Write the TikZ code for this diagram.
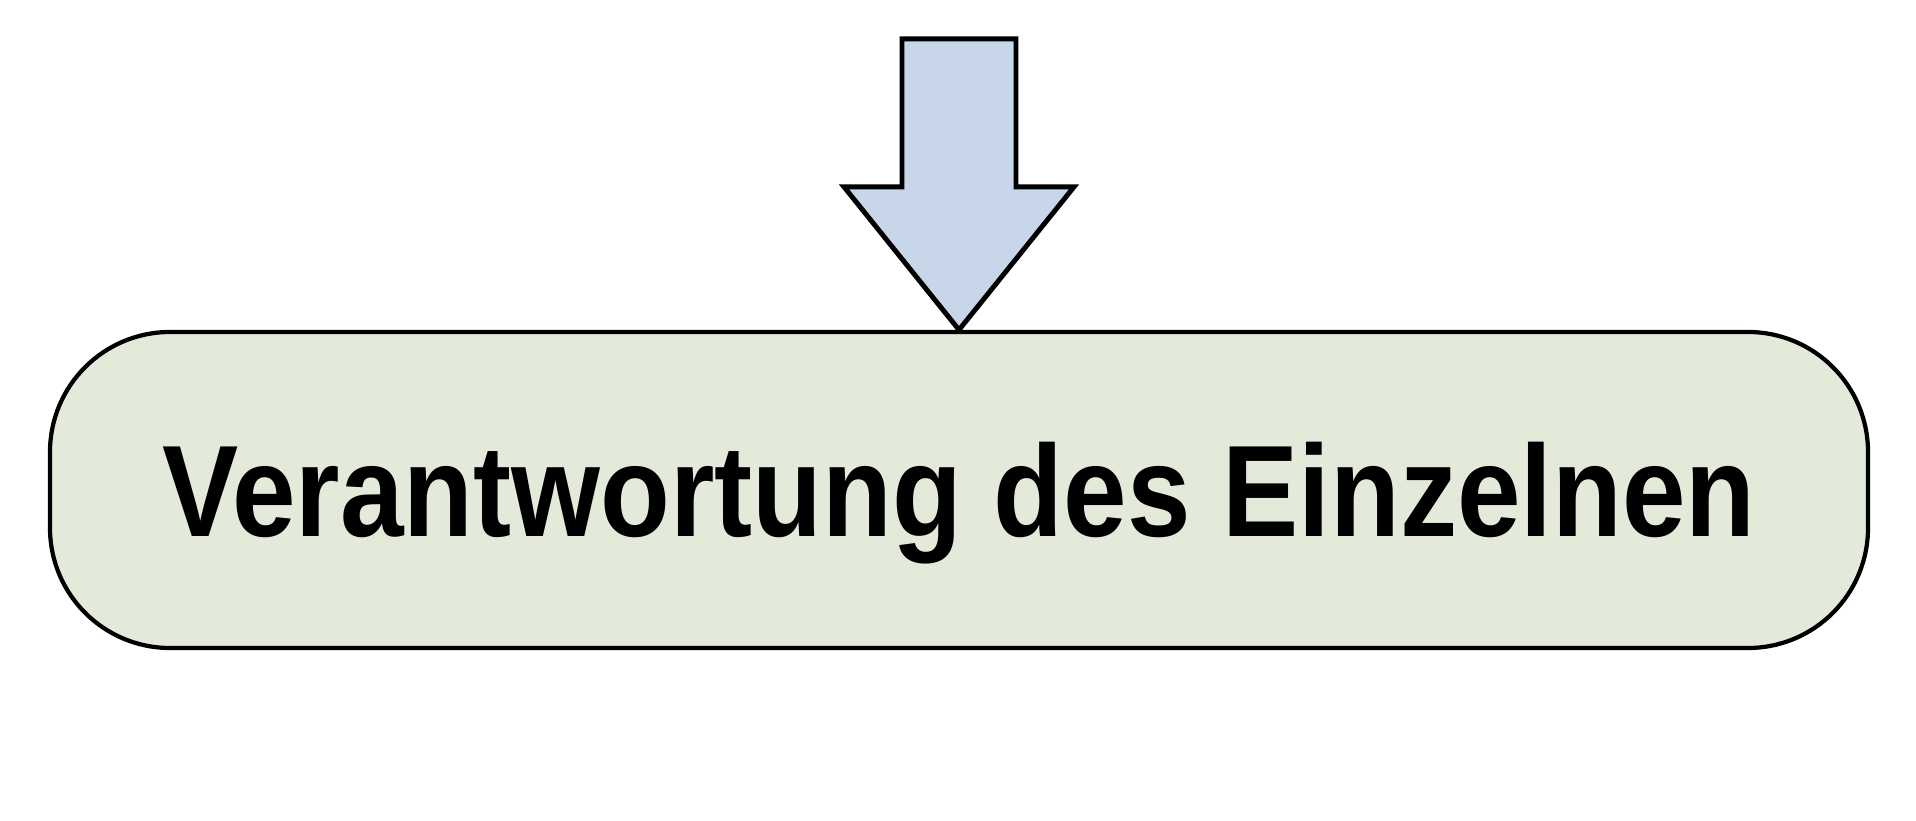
\documentclass[tikz,border=0pt]{standalone}
\usepackage{fontspec}
\setmainfont{Liberation Sans}
\usepackage{tikz}
\usetikzlibrary{positioning}
\definecolor{boxfill}{RGB}{228,234,218}
\definecolor{arrowfill}{RGB}{199,214,233}

\begin{document}
\begin{tikzpicture}[thick]
          \tikzstyle{every node}=[font=\bfseries\fontsize{32.5}{39}\selectfont]
          \tikzstyle{pill}=[draw=black, line width=1.2pt, fill=boxfill, rounded corners=1.2cm,
                            minimum width=18.18cm, minimum height=3.16cm,
                            text height=0.94cm, text depth=0pt, inner sep=0pt]
          \tikzstyle{blockarrow}=[draw=black, line width=1.4pt, fill=arrowfill, line join=miter]
          % 
          \useasboundingbox (0,0) rectangle (19.16,-8.21);
          \node [pill] (resp) at (9.59,-4.90) {\scalebox{1}[1.14]{Verantwortung des Einzelnen}};
          % 
          \draw [blockarrow, shift={(resp.north)}]
                (0,0) -- (-1.15,1.43) -- (-0.57,1.43) -- (-0.57,2.91)
                -- (0.57,2.91) -- (0.57,1.43) -- (1.15,1.43) -- cycle;
        \end{tikzpicture}
\end{document}
